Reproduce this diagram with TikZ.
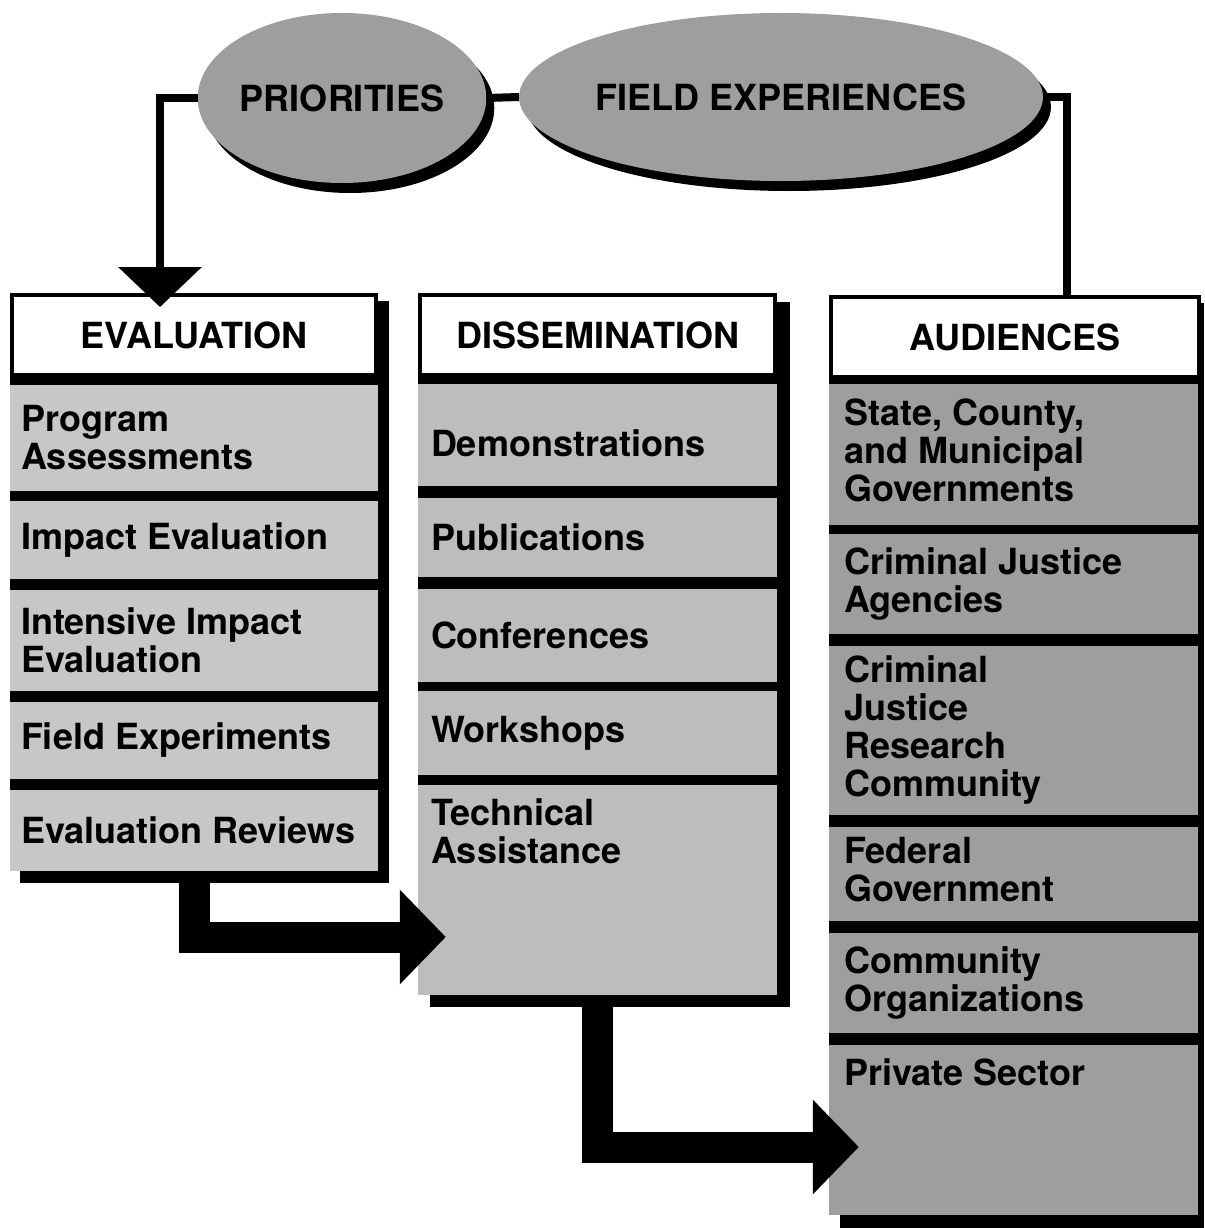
\documentclass[tikz,border=0pt]{standalone}
\usepackage{fontspec}
\setmainfont{TeX Gyre Heros}
\usetikzlibrary{shapes.geometric,arrows.meta,shadows}
\definecolor{evalgray}{gray}{0.78}
\definecolor{dissgray}{gray}{0.74}
\definecolor{audgray}{gray}{0.62}
\definecolor{ovalgray}{gray}{0.62}
\tikzset{
  bigtext/.style={font=\fontsize{36}{38}\selectfont\bfseries},
  oval/.style={ellipse,fill=ovalgray,inner sep=0pt,bigtext,
    drop shadow={fill=black,opacity=1,shadow xshift=8pt,shadow yshift=-10pt}},
  headbox/.style={draw,line width=4pt,fill=white,minimum height=80pt,bigtext},
  rowbox/.style={fill=#1,inner sep=0pt},
  rowtext/.style={inner sep=0pt,align=left,bigtext},
  link/.style={line width=8pt},
  flow/.style={line width=31pt,-{Triangle[width=92pt,length=46pt]}}
}
\begin{document}
\begin{tikzpicture}[x=1pt,y=-1pt]
\useasboundingbox (0,0) rectangle (1204,1228);
% top ovals
\node[oval,minimum width=284,minimum height=170] (prio) at (342,98) {PRIORITIES};
\node[oval,minimum width=466,minimum height=168] (field) at (781,97) {FIELD EXPERIENCES};
\draw[link] (prio.east) -- (field.west);
% columns: black backing and shadow
\fill (10,293) rectangle (378,871);
\fill (20,301) rectangle (389,883);
\fill (418,294) rectangle (777,995);
\fill (430,302) rectangle (790,1007);
\fill (829,295) rectangle (1201,1215);
\fill (840,303) rectangle (1204,1228);
\node[headbox,minimum width=364] (evalhead) at (194,335) {EVALUATION};
\node[headbox,minimum width=355] (disshead) at (597.5,335) {DISSEMINATION};
\node[headbox,minimum width=368] (audhead) at (1015,337) {AUDIENCES};
\draw[link,-{Triangle[width=82pt,length=40pt]}] (prio.west) -| ([xshift=-34pt,yshift=-14pt]evalhead.north);
\draw[link] (field.east) -| ([xshift=52pt]audhead.north);
\foreach \i/\ya/\yb/\an/\dy/\txt in {1/385/491/west/0/{Program\\Assessments},
    2/501/579/west/0/{Impact Evaluation},3/590/691/west/0/{Intensive Impact\\Evaluation},
    4/702/779/west/0/{Field Experiments},5/790/871/west/0/{Evaluation Reviews}} {
  \node[rowbox=evalgray,minimum width=368,minimum height={\yb-\ya}] (ev\i) at (194,{(\ya+\yb)/2}) {};
  \node[rowtext,anchor=\an] (evt\i) at ([shift={(11,\dy)}]ev\i.\an) {\txt};
}
\foreach \i/\ya/\yb/\an/\dy/\txt in {1/384/486/west/8/{Demonstrations},
    2/498/577/west/0/{Publications},3/589/682/west/0/{Conferences},
    4/691/775/west/0/{Workshops},5/785/995/north west/14/{Technical\\Assistance}} {
  \node[rowbox=dissgray,minimum width=359,minimum height={\yb-\ya}] (ds\i) at (597.5,{(\ya+\yb)/2}) {};
  \node[rowtext,anchor=\an] (dst\i) at ([shift={(13,\dy)}]ds\i.\an) {\txt};
}
\foreach \i/\ya/\yb/\an/\dy/\txt in {1/384/525/west/-4/{State, County,\\and Municipal\\Governments},
    2/534/634/west/0/{Criminal Justice\\Agencies},3/646/815/west/0/{Criminal\\Justice\\Research\\Community},
    4/827/921/west/-4/{Federal\\Government},5/933/1033/west/0/{Community\\Organizations},
    6/1045/1215/north west/14/{Private Sector}} {
  \node[rowbox=audgray,minimum width=369,minimum height={\yb-\ya}] (au\i) at (1013.5,{(\ya+\yb)/2}) {};
  \node[rowtext,anchor=\an] (aut\i) at ([shift={(15,\dy)}]au\i.\an) {\txt};
}
% flow arrows
\draw[flow] (ev5.south) |- ([shift={(28,47)}]ds5.west);
\draw[flow] (ds5.south) |- ([shift={(30,17)}]au6.west);
\end{tikzpicture}
\end{document}
